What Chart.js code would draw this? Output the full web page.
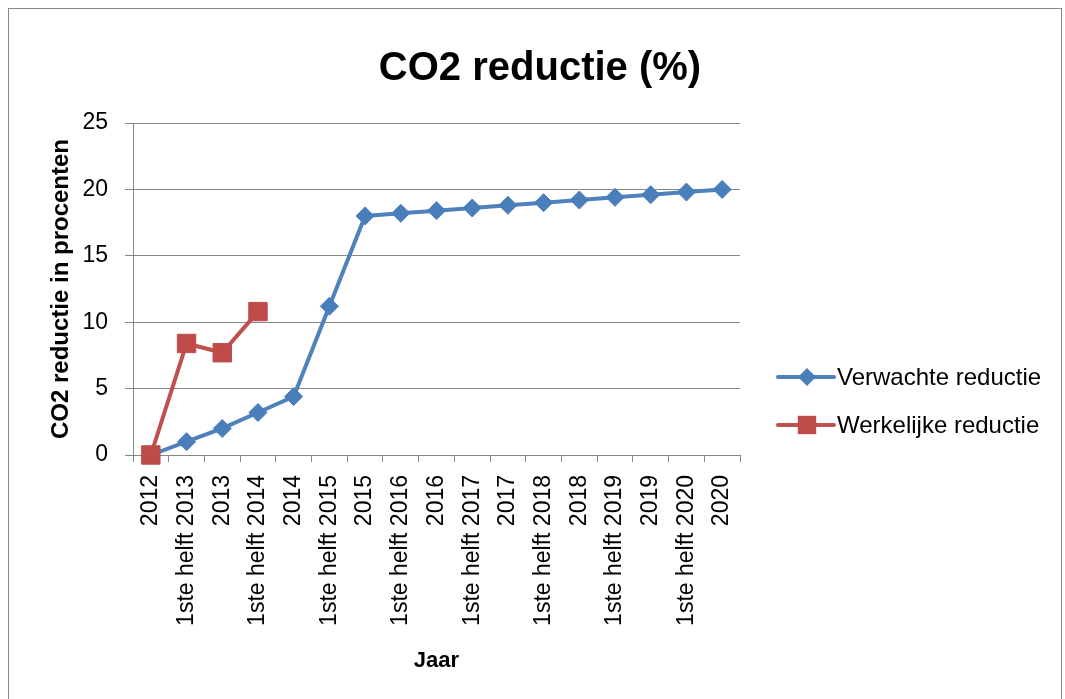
<!DOCTYPE html>
<html>
<head>
<meta charset="utf-8">
<script src="https://cdn.jsdelivr.net/npm/chart.js@4/dist/chart.umd.min.js"></script>
<style>
  html, body { margin: 0; padding: 0; background: #ffffff; }
  canvas { display: block; }
</style>
</head>
<body>
<canvas id="c" width="1065" height="699"></canvas>
<script>
// ---- data ----
const chartTitle = 'CO2 reductie (%)';
const categories = [
  '2012', '1ste helft 2013', '2013', '1ste helft 2014', '2014',
  '1ste helft 2015', '2015', '1ste helft 2016', '2016', '1ste helft 2017',
  '2017', '1ste helft 2018', '2018', '1ste helft 2019', '2019',
  '1ste helft 2020', '2020'
];
const verwachteReductie = [0, 1.0, 2.0, 3.2, 4.4, 11.2, 18.0, 18.2, 18.4, 18.6, 18.8, 19.0, 19.2, 19.4, 19.6, 19.8, 20.0];
const werkelijkeReductie = [0, 8.4, 7.7, 10.8];
const yMin = 0, yMax = 25, yStep = 5;
const xTitle = 'Jaar';
const yTitle = 'CO2 reductie in procenten';

const FONT = "'Liberation Sans', Arial, sans-serif";
const GRID = '#868686';

const framePlugin = {
  id: 'frame',
  beforeDraw(chart) {
    const ctx = chart.ctx;
    ctx.save();
    ctx.fillStyle = '#ffffff';
    ctx.fillRect(0, 0, chart.width, chart.height);
    ctx.strokeStyle = '#8a8a8a';
    ctx.lineWidth = 1;
    ctx.strokeRect(8.5, 8.5, chart.width - 12, chart.height + 20);
    ctx.restore();
  },
  afterDraw(chart) {
    const ctx = chart.ctx;
    ctx.save();
    // title
    ctx.fillStyle = '#000000';
    ctx.font = "bold 40px " + FONT;
    ctx.textAlign = 'center';
    ctx.textBaseline = 'middle';
    ctx.fillText(chartTitle, 540, 69);
    // legend
    const lx = chart.chartArea.right + 38;
    const ys = [377, 425];
    chart.data.datasets.forEach((ds, i) => {
      const y = ys[i];
      ctx.strokeStyle = ds.borderColor;
      ctx.lineWidth = 4;
      ctx.lineCap = 'round';
      ctx.beginPath();
      ctx.moveTo(lx, y);
      ctx.lineTo(lx + 56, y);
      ctx.stroke();
      ctx.fillStyle = ds.pointBackgroundColor;
      const cx = lx + 29;
      if (ds.pointStyle === 'rectRot') {
        const r = ds.pointRadius;
        ctx.beginPath();
        ctx.moveTo(cx - r, y); ctx.lineTo(cx, y - r); ctx.lineTo(cx + r, y); ctx.lineTo(cx, y + r);
        ctx.closePath(); ctx.fill();
      } else {
        const s = ds.pointRadius * Math.SQRT1_2;
        ctx.fillRect(cx - s, y - s, 2 * s, 2 * s);
      }
      ctx.fillStyle = '#000000';
      ctx.font = "24px " + FONT;
      ctx.textAlign = 'left';
      ctx.textBaseline = 'middle';
      ctx.fillText(ds.label, lx + 59, y + 1);
    });
    ctx.restore();
  }
};

new Chart(document.getElementById('c'), {
  type: 'line',
  data: {
    labels: categories,
    datasets: [
      {
        label: 'Verwachte reductie',
        data: verwachteReductie,
        borderColor: '#4F81BD',
        backgroundColor: '#4A7EBB',
        pointBackgroundColor: '#4A7EBB',
        pointBorderColor: '#4A7EBB',
        pointStyle: 'rectRot',
        pointRadius: 9,
        pointBorderWidth: 1,
        borderWidth: 4,
        tension: 0,
        clip: false,
        order: 1
      },
      {
        label: 'Werkelijke reductie',
        data: werkelijkeReductie,
        borderColor: '#C0504D',
        backgroundColor: '#BE4B48',
        pointBackgroundColor: '#BE4B48',
        pointBorderColor: '#BE4B48',
        pointStyle: 'rect',
        pointRadius: 13,
        pointBorderWidth: 1,
        borderWidth: 4,
        tension: 0,
        clip: false,
        order: 0
      }
    ]
  },
  options: {
    responsive: false,
    devicePixelRatio: 1,
    animation: false,
    layout: { padding: { top: 123, right: 325, left: 0, bottom: 0 } },
    plugins: {
      legend: { display: false },
      title: { display: false },
      tooltip: { enabled: false }
    },
    scales: {
      x: {
        type: 'category',
        offset: true,
        grid: { display: true, drawOnChartArea: false, offset: true, color: GRID, tickLength: 7, lineWidth: 1 },
        border: { display: true, color: GRID, width: 1 },
        ticks: {
          autoSkip: false, minRotation: 90, maxRotation: 90, padding: 13,
          color: '#000000', font: { family: FONT, size: 23 }
        },
        title: {
          display: true, text: xTitle, color: '#000000',
          font: { family: FONT, size: 22, weight: 'bold' },
          padding: { top: 0, bottom: 25 }
        },
        afterFit(scale) { scale.height = 244; }
      },
      y: {
        min: yMin, max: yMax,
        grid: { color: GRID, tickLength: 8, lineWidth: 1 },
        border: { display: true, color: GRID, width: 1 },
        ticks: {
          stepSize: yStep, padding: 17, color: '#000000',
          font: { family: FONT, size: 23 }
        },
        title: {
          display: true, text: yTitle, color: '#000000',
          font: { family: FONT, size: 24, weight: 'bold' },
          padding: { top: 47, bottom: 0 }
        },
        afterFit(scale) { scale.width = 133; }
      }
    }
  },
  plugins: [framePlugin]
});
</script>
</body>
</html>
